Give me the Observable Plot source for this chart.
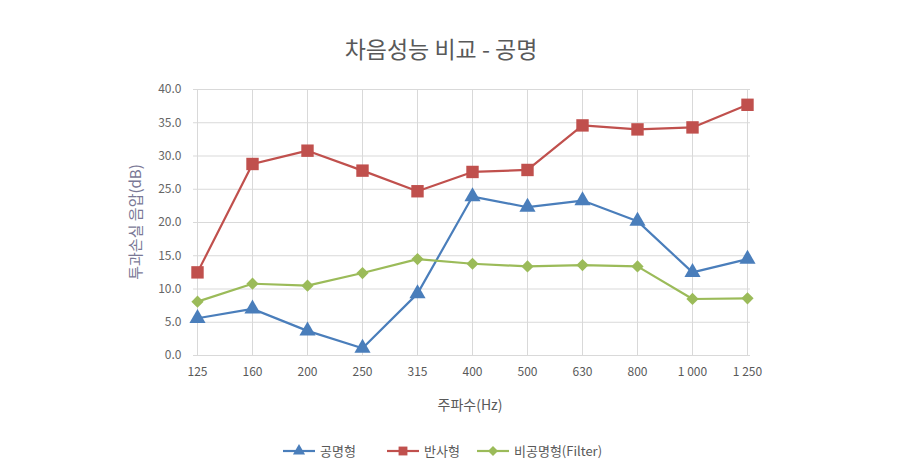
<!DOCTYPE html>
<html><head><meta charset="utf-8">
<script src="https://cdn.jsdelivr.net/npm/d3@7"></script>
<script src="https://cdn.jsdelivr.net/npm/@observablehq/plot@0.6"></script>
<style>
body{margin:0;background:#fff;font-family:"Noto Sans CJK KR","Noto Sans",sans-serif;}
</style></head>
<body><div id="chart"></div>
<script>
const categories = ["125","160","200","250","315","400","500","630","800","1000","1250"];
const tickLabels = ["125","160","200","250","315","400","500","630","800","1 000","1 250"];
const seriesNames = ["공명형","반사형","비공명형(Filter)"];
const resonant = [5.6, 7.0, 3.7, 1.1, 9.3, 23.9, 22.3, 23.3, 20.2, 12.5, 14.5];
const reflective = [12.5, 28.8, 30.8, 27.8, 24.7, 27.6, 27.9, 34.6, 34.0, 34.3, 37.7];
const nonResonant = [8.1, 10.8, 10.5, 12.4, 14.5, 13.8, 13.4, 13.6, 13.4, 8.5, 8.6];
const yTicks = [0,5,10,15,20,25,30,35,40];
const colors = ["#4a7ebb","#c0504d","#9bbb59"];
const symbols = ["triangle","square","diamond2"];
const radii = [6, 7, 5.5];

const seriesValues = [resonant, reflective, nonResonant];
const data = seriesNames.flatMap((s,i)=>categories.map((c,j)=>({series:s, cat:c, v:seriesValues[i][j]})));

const W=897,H=471;
const chart = Plot.plot({
  width:W, height:H,
  marginLeft:193, marginRight:147, marginTop:89, marginBottom:116,
  style:{fontFamily:'"Noto Sans CJK KR","Noto Sans",sans-serif', background:"#fff"},
  x:{type:"point", domain:categories, padding:0, label:null},
  y:{domain:[0,40], label:null},
  color:{domain:seriesNames, range:colors},
  symbol:{domain:seriesNames, range:symbols},
  marks:[
    Plot.gridY(yTicks,{stroke:"#d9d9d9", strokeOpacity:1, strokeWidth:1}),
    Plot.gridX(categories,{stroke:"#d9d9d9", strokeOpacity:1, strokeWidth:1}),
    Plot.axisY(yTicks,{tickSize:0, tickPadding:12, tickFormat:d=>d.toFixed(1), fontSize:12, fill:"#666", label:null}),
    Plot.axisX(categories,{tickSize:0, tickPadding:12, tickFormat:(d)=>tickLabels[categories.indexOf(d)], fontSize:12, fill:"#595959", label:null}),
    Plot.line(data,{x:"cat", y:"v", z:"series", stroke:"series", strokeWidth:2.2}),
    ...seriesNames.map((s,i)=>Plot.dot(data.filter(d=>d.series===s),{x:"cat", y:"v", symbol:"series", fill:"series", stroke:"none", r:radii[i]}))
  ]
});
document.getElementById("chart").appendChild(chart);

const svg = d3.select(chart);
svg.append("text").attr("x",441).attr("y",58).attr("text-anchor","middle")
  .attr("font-size",23).attr("fill","#595959").text("차음성능 비교 - 공명");
svg.append("text").attr("transform","translate(141,222) rotate(-90)").attr("text-anchor","middle")
  .attr("font-size",15).attr("fill","#7a7896").text("투과손실 음압(dB)");
svg.append("text").attr("x",470).attr("y",410).attr("text-anchor","middle")
  .attr("font-size",14).attr("fill","#595959").text("주파수(Hz)");

// legend
const legX = [283, 387, 477];
const symGen = [d3.symbolTriangle, d3.symbolSquare, d3.symbolDiamond2];
const legSize = [4.5, 5, 4.5];
seriesNames.forEach((s,i)=>{
  const g = svg.append("g").attr("transform",`translate(${legX[i]},451)`);
  g.append("line").attr("x1",0).attr("x2",32).attr("y1",0).attr("y2",0).attr("stroke",colors[i]).attr("stroke-width",2.2);
  g.append("path").attr("transform","translate(16,0)").attr("d",d3.symbol(symGen[i], Math.PI*legSize[i]*legSize[i])()).attr("fill",colors[i]);
  g.append("text").attr("x",37).attr("y",5).attr("text-anchor","start").attr("font-size",13).attr("fill","#595959").text(s);
});
</script>
</body></html>
